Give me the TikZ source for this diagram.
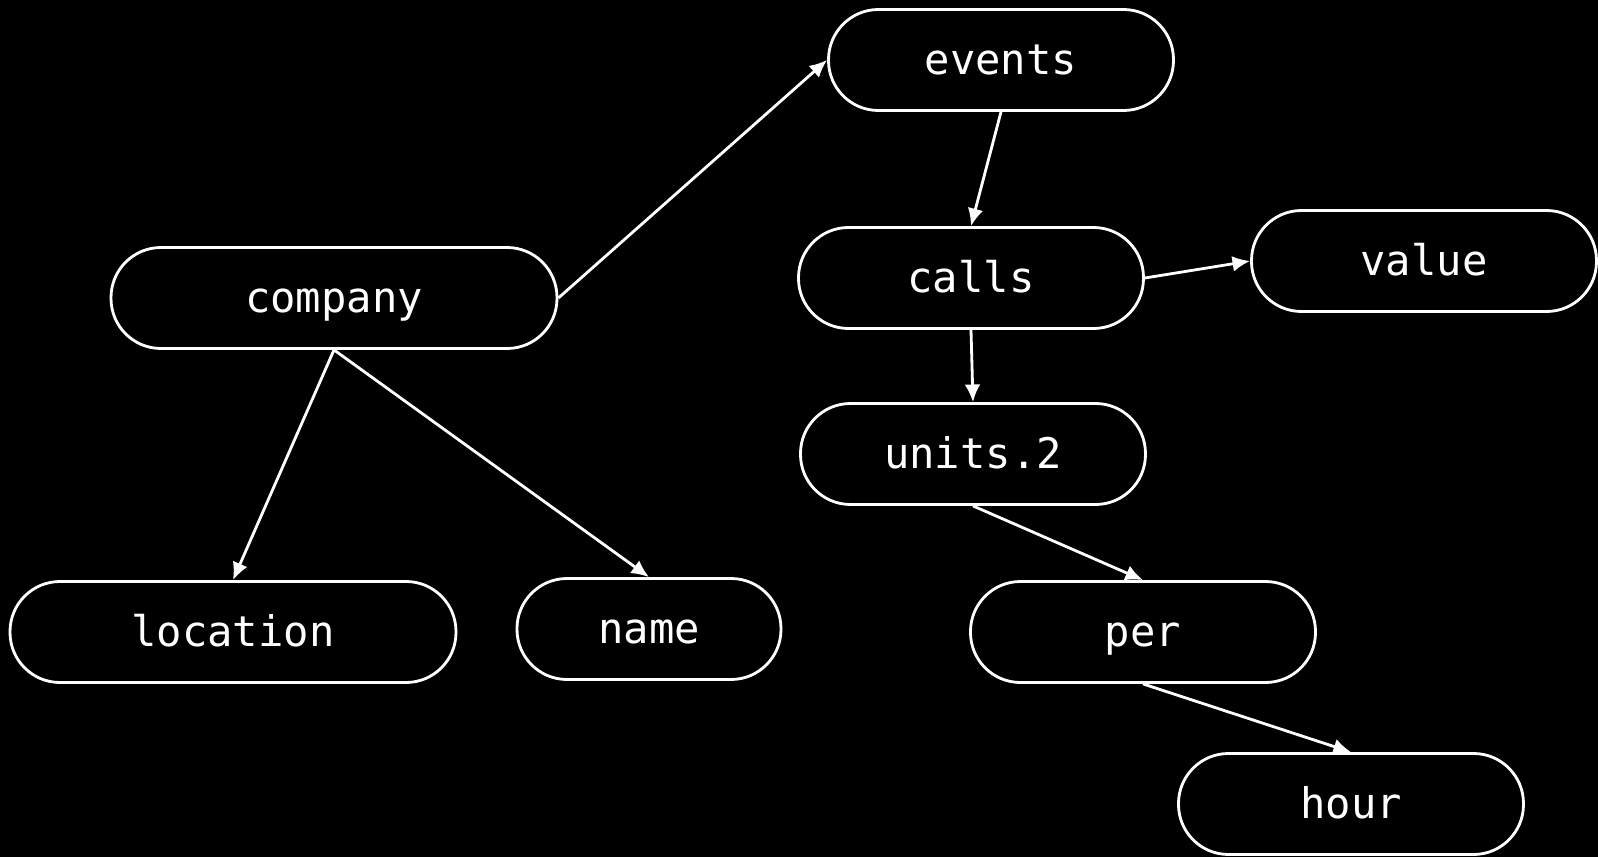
\documentclass[tikz,border=0pt]{standalone}
\usepackage{fontspec}
\setmonofont{DejaVu Sans Mono}
\usepackage{tikz}
\usetikzlibrary{arrows.meta}

\begin{document}
\begin{tikzpicture}[
    field/.style={rectangle, rounded corners=0.5cm, draw=white, fill=black, thick, minimum width=3.45cm, minimum height=1.01cm, text=white, text height=10pt, text depth=2pt, font=\ttfamily\fontsize{12}{14}\selectfont},
    arrow/.style={->, >={Latex[length=5pt, width=4.5pt]}, thick, white}
]

\fill[black] (0,0) rectangle (15.98,-8.57);
\useasboundingbox (0,0) rectangle (15.98,-8.57);

\node[field, minimum width=4.46cm] (company) at (3.34,-2.98) {company};
\node[field] (events) at (10.01,-0.60) {events};
\node[field] (calls) at (9.71,-2.78) {calls};
\node[field] (value) at (14.24,-2.61) {value};
\node[field] (units) at (9.73,-4.54) {units.2};
\node[field, minimum width=4.46cm] (location) at (2.33,-6.32) {location};
\node[field, minimum width=2.64cm] (name) at (6.49,-6.29) {name};
\node[field] (per) at (11.43,-6.32) {per};
\node[field] (hour) at (13.51,-8.04) {hour};

\draw[arrow] (company.east) -- (events.west);
\draw[arrow] (events.south) -- (calls.north);
\draw[arrow] (calls.east) -- (value.west);
\draw[arrow] (calls.south) -- (units.north);
\draw[arrow] (units.south) -- (per.north);
\draw[arrow] (per.south) -- (hour.north);
\draw[arrow] (company.south) -- (location.north);
\draw[arrow] (company.south) -- (name.north);

\end{tikzpicture}
\end{document}
